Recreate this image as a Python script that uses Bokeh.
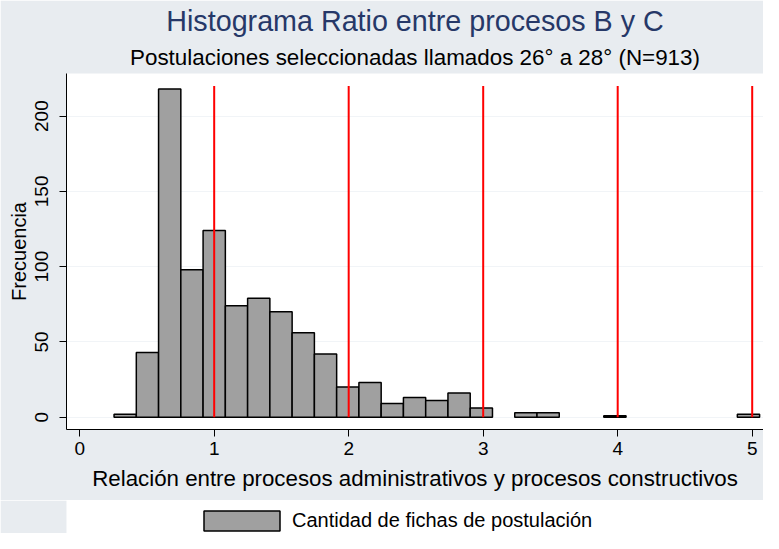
from bokeh.plotting import figure
from bokeh.layouts import column
from bokeh.models import Range1d, FixedTicker, Title, Legend, LegendItem, ColumnDataSource
from bokeh.embed import file_html
from bokeh.resources import INLINE

# ---- data ----
bin_start = 0.2555
bin_width = 0.1655
counts = [2, 43, 218, 98, 124, 74, 79, 70, 56, 42, 20, 23, 9, 13, 11, 16, 6,
          0, 3, 3, 0, 0, 1, 0, 0, 0, 0, 0, 2]
ref_lines = [1, 2, 3, 4, 5]
ref_line_top = 220
x_ticks = [0, 1, 2, 3, 4, 5]
y_ticks = [0, 50, 100, 150, 200]
title_text = "Histograma Ratio entre procesos B y C"
subtitle_text = "Postulaciones seleccionadas llamados 26° a 28° (N=913)"
x_label = "Relación entre procesos administrativos y procesos constructivos"
y_label = "Frecuencia"
legend_label = "Cantidad de fichas de postulación"

BG = "#E8ECF0"
FONT = "Liberation Sans"
BAR_STYLE = dict(fill_color="#A0A0A0", line_color="black", line_width=1.5)

lefts, rights, tops = [], [], []
for i, c in enumerate(counts):
    if c > 0:
        lefts.append(bin_start + i * bin_width)
        rights.append(bin_start + (i + 1) * bin_width)
        tops.append(c)
src = ColumnDataSource(dict(left=lefts, right=rights, top=tops, bottom=[0] * len(tops)))

p = figure(width=763, height=500, output_backend="svg", toolbar_location=None,
           x_range=Range1d(-0.098, 5.084), y_range=Range1d(-8.2, 228.3),
           min_border_left=66, min_border_right=0, min_border_top=73, min_border_bottom=71)
p.background_fill_alpha = 0
p.border_fill_color = BG
p.outline_line_color = None

p.title.text = title_text
p.title.align = "center"
p.title.text_font = FONT
p.title.text_font_size = "28.7px"
p.title.text_font_style = "normal"
p.title.text_color = "#263868"
p.title.standoff = 3
p.title.offset = 5
sub = Title(text=subtitle_text, align="center", text_font=FONT, text_font_size="22.4px",
            text_font_style="normal", text_color="black", standoff=8, offset=5)
p.add_layout(sub, "above")

r = p.quad(left="left", right="right", top="top", bottom="bottom", source=src, **BAR_STYLE)
p.segment(x0=ref_lines, y0=[0] * len(ref_lines), x1=ref_lines,
          y1=[ref_line_top] * len(ref_lines), line_color="red", line_width=2)

p.xaxis.ticker = FixedTicker(ticks=x_ticks)
p.yaxis.ticker = FixedTicker(ticks=y_ticks)
for ax in (p.xaxis[0], p.yaxis[0]):
    ax.axis_line_color = "black"
    ax.axis_line_width = 1
    ax.major_tick_line_color = "black"
    ax.major_tick_out = 7
    ax.major_tick_in = 0
    ax.minor_tick_line_color = None
    ax.major_label_text_font = FONT
    ax.major_label_text_font_size = "19px"
    ax.major_label_text_color = "black"
    ax.axis_label_text_font = FONT
    ax.axis_label_text_font_style = "normal"
    ax.axis_label_text_color = "black"
p.xaxis.axis_label = x_label
p.yaxis.axis_label = y_label
p.xaxis.axis_label_text_font_size = "22.3px"
p.yaxis.axis_label_text_font_size = "20px"
p.yaxis.major_label_orientation = "vertical"
p.xaxis.major_label_standoff = 5
p.xaxis.axis_label_standoff = 8
p.yaxis.major_label_standoff = 11
p.yaxis.axis_label_standoff = 3

p.xgrid.grid_line_color = None
p.ygrid.grid_line_color = "#F1F4F7"
p.ygrid.grid_line_width = 1

# legend strip below the chart (its y range keeps the bars out of view; only the key shows)
lg = figure(width=763, height=33, output_backend="svg", toolbar_location=None,
            x_range=p.x_range, y_range=Range1d(1000, 1001),
            x_axis_type=None, y_axis_type=None,
            min_border_left=66, min_border_right=0, min_border_top=0, min_border_bottom=0)
lg.background_fill_alpha = 0
lg.border_fill_color = BG
lg.outline_line_color = None
lg.xgrid.visible = False
lg.ygrid.visible = False
r2 = lg.quad(left="left", right="right", top="top", bottom="bottom", source=src, **BAR_STYLE)
legend = Legend(items=[LegendItem(label=legend_label, renderers=[r2])],
                location=(128, 0), orientation="horizontal",
                glyph_width=95, glyph_height=25, label_standoff=3,
                padding=0, margin=0, border_line_alpha=0, background_fill_alpha=0,
                label_text_font=FONT, label_text_font_size="20px", label_text_color="black")
lg.add_layout(legend, "center")

layout = column(p, lg, spacing=0)
open("out.html", "w").write(file_html(layout, INLINE))
